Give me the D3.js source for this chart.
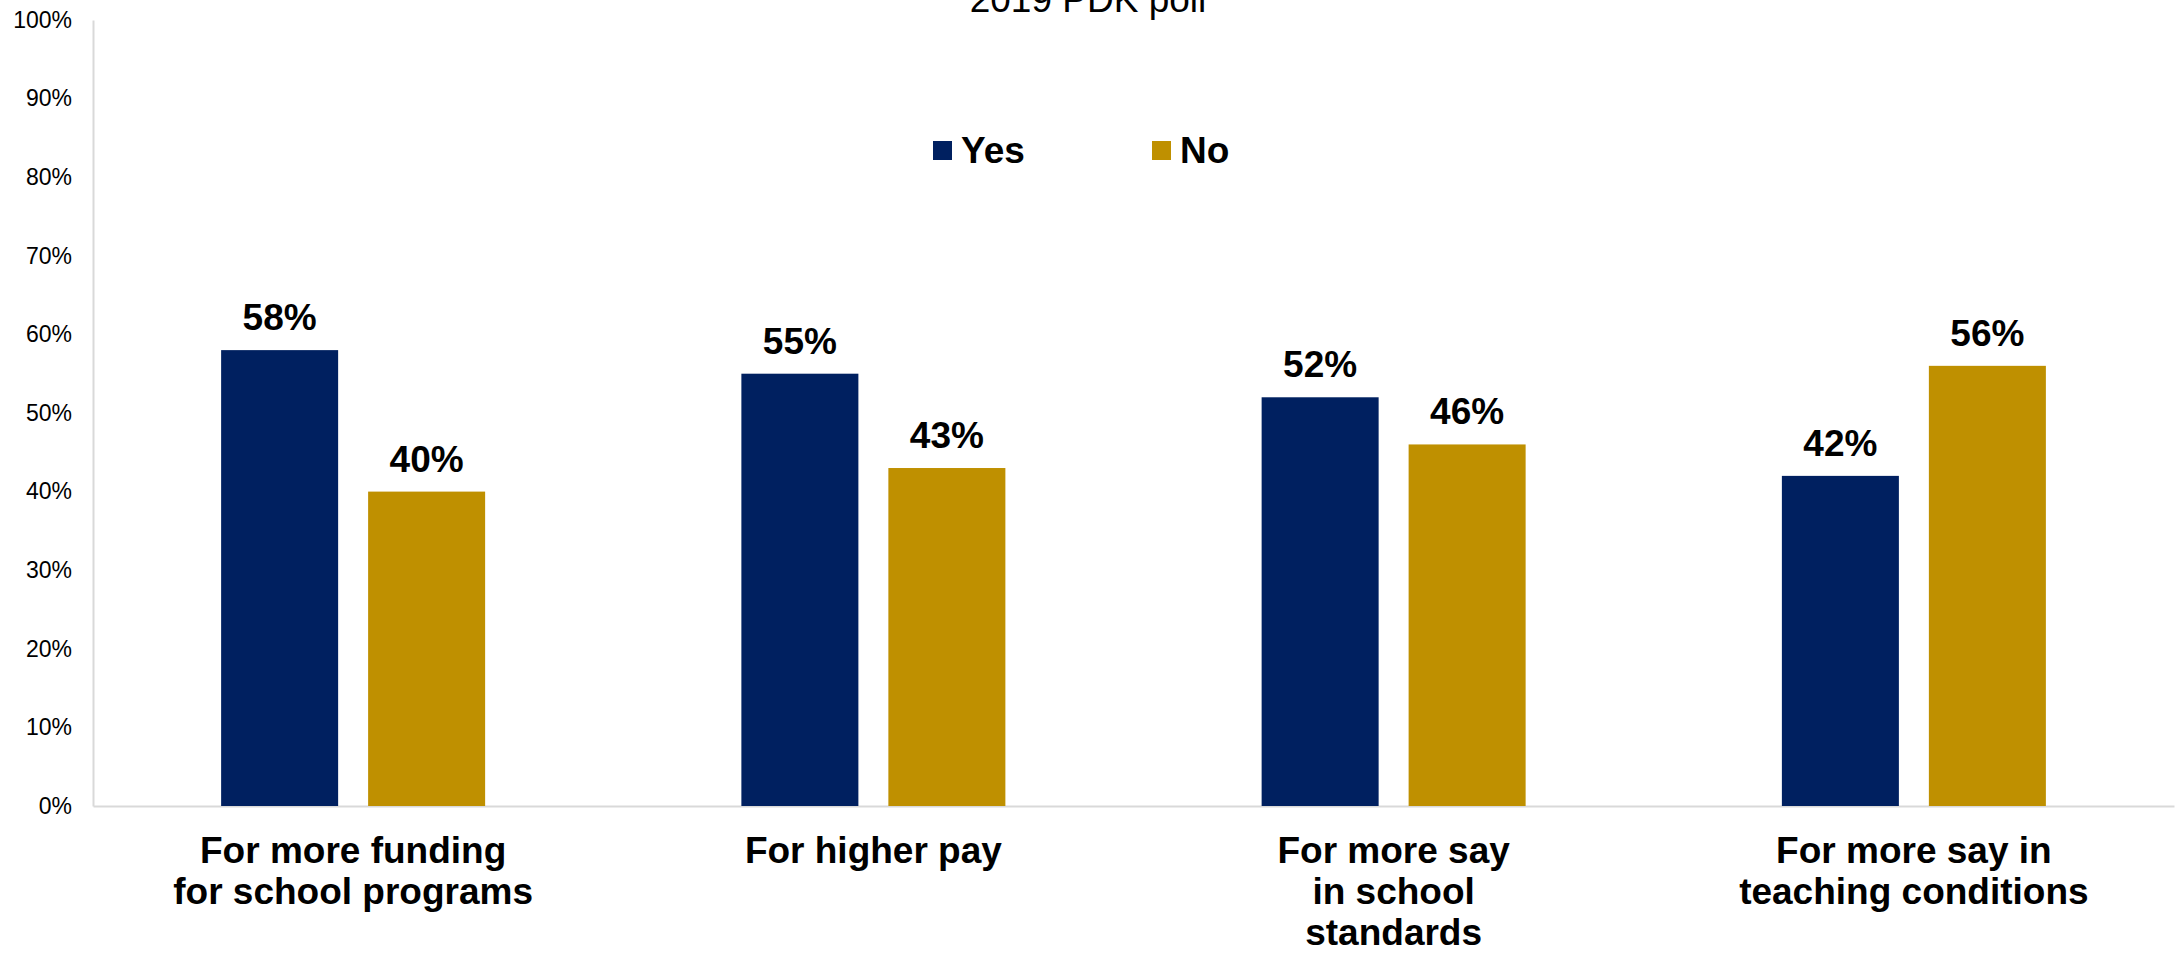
<!DOCTYPE html>
<html>
<head>
<meta charset="utf-8">
<script src="https://cdn.jsdelivr.net/npm/d3@7"></script>
<style>
  html, body { margin: 0; padding: 0; background: #fff; }
  svg { display: block; font-family: Arial, "Liberation Sans", Helvetica, sans-serif; }
</style>
</head>
<body>
<svg id="chart" width="2177" height="953"></svg>
<script>
// Survey answers by reason, in percent
const categories = [
  ["For more funding", "for school programs"],
  ["For higher pay"],
  ["For more say", "in school", "standards"],
  ["For more say in", "teaching conditions"]
];
const seriesNames = ["Yes", "No"];
const yesValues = [58, 55, 52, 42];
const noValues = [40, 43, 46, 56];
const yTicks = [0, 10, 20, 30, 40, 50, 60, 70, 80, 90, 100];
const titleText = "2019 PDK poll";

const colors = { Yes: "#002060", No: "#BF9000" };

const svg = d3.select("#chart");
const plot = { left: 93, right: 2174, top: 20, bottom: 806 };

const catKeys = categories.map((c, i) => i);
const x0 = d3.scaleBand().domain(catKeys).range([plot.left, plot.right]).padding(0);
const bw = x0.bandwidth();
const x1 = d3.scaleBand().domain(seriesNames)
  .range([bw / 2 - 132, bw / 2 + 132]).paddingInner(0.204).paddingOuter(0);
const y = d3.scaleLinear().domain([0, 100]).range([plot.bottom, plot.top]);

// Title (runs off the top edge)
svg.append("text")
  .attr("x", 1088).attr("y", 12)
  .attr("text-anchor", "middle")
  .attr("font-size", 37)
  .attr("fill", "#000")
  .text(titleText);

// Y axis
const yAxis = d3.axisLeft(y).tickValues(yTicks).tickFormat(d => d + "%").tickSize(0).tickPadding(21);
const gy = svg.append("g").attr("transform", `translate(${plot.left},0)`).call(yAxis);
gy.select(".domain").attr("stroke", "#d9d9d9").attr("stroke-width", 2);
gy.selectAll("text").attr("font-size", 23).attr("fill", "#000")
  .attr("font-family", "Arial, 'Liberation Sans', sans-serif");

// X axis baseline
const xAxis = d3.axisBottom(x0).tickSize(0).tickFormat("");
const gx = svg.append("g").attr("transform", `translate(0,${plot.bottom})`).call(xAxis);
gx.select(".domain").attr("stroke", "#d9d9d9").attr("stroke-width", 2);

// Bars
const rows = catKeys.map(i => ({ i, Yes: yesValues[i], No: noValues[i] }));
const groups = svg.append("g").selectAll("g").data(rows).join("g")
  .attr("transform", d => `translate(${x0(d.i)},0)`);

groups.selectAll("rect").data(d => seriesNames.map(k => ({ k, v: d[k] }))).join("rect")
  .attr("x", d => x1(d.k))
  .attr("width", x1.bandwidth())
  .attr("y", d => y(d.v))
  .attr("height", d => y(0) - y(d.v))
  .attr("fill", d => colors[d.k]);

// Value labels
groups.selectAll("text.val").data(d => seriesNames.map(k => ({ k, v: d[k] }))).join("text")
  .attr("class", "val")
  .attr("x", d => x1(d.k) + x1.bandwidth() / 2)
  .attr("y", d => y(d.v) - 20)
  .attr("text-anchor", "middle")
  .attr("font-size", 37)
  .attr("font-weight", "bold")
  .attr("fill", "#000")
  .text(d => d.v + "%");

// Category labels
const catLabels = svg.append("g").selectAll("text").data(catKeys).join("text")
  .attr("x", i => x0(i) + bw / 2)
  .attr("y", 863)
  .attr("text-anchor", "middle")
  .attr("font-size", 37)
  .attr("font-weight", "bold")
  .attr("fill", "#000");
catLabels.selectAll("tspan").data(i => categories[i]).join("tspan")
  .attr("x", function () { return d3.select(this.parentNode).attr("x"); })
  .attr("dy", (d, j) => j === 0 ? 0 : 41)
  .text(d => d);

// Legend
const legendX = { Yes: 933, No: 1152 };
const legend = svg.append("g").selectAll("g").data(seriesNames).join("g")
  .attr("transform", d => `translate(${legendX[d]},141)`);
legend.append("rect").attr("width", 19).attr("height", 19).attr("fill", d => colors[d]);
legend.append("text")
  .attr("x", 28).attr("y", 22)
  .attr("font-size", 37)
  .attr("font-weight", "bold")
  .attr("fill", "#000")
  .text(d => d);
</script>
</body>
</html>
